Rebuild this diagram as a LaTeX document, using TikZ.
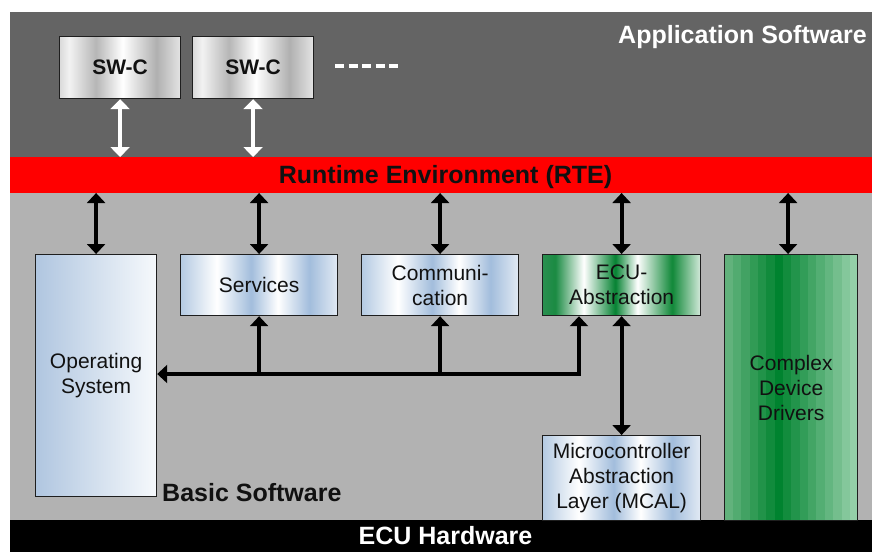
\documentclass[tikz,border=0pt]{standalone}
\usepackage{fontspec}
\setmainfont{Liberation Sans}
\usetikzlibrary{arrows.meta}

% layer colours
\definecolor{appgray}{HTML}{646464}
\definecolor{bswgray}{HTML}{B2B2B2}
\definecolor{rtered}{HTML}{FF0000}
\definecolor{edge}{HTML}{1E1E1E}
\definecolor{boxtext}{HTML}{111111}

% brushed metal stripes for software components
\definecolor{mA}{HTML}{DADADA}
\definecolor{mB}{HTML}{F2F2F2}
\definecolor{mC}{HTML}{B6B6B6}
\definecolor{mD}{HTML}{FFFFFF}
\definecolor{mE}{HTML}{B0B0B0}
\definecolor{mF}{HTML}{E4E4E4}
\pgfdeclarehorizontalshading{metal}{100bp}{color(0bp)=(mA); color(25bp)=(mA);
  color(29bp)=(mB); color(40bp)=(mC); color(51bp)=(mD); color(65bp)=(mE);
  color(75bp)=(mF); color(100bp)=(mF)}

% blue stripes for basic software modules
\definecolor{bA}{HTML}{B4CAE2}
\definecolor{bB}{HTML}{FFFFFF}
\definecolor{bC}{HTML}{A2BDDC}
\definecolor{bD}{HTML}{E2EAF4}
\pgfdeclarehorizontalshading{bluestripe}{100bp}{color(0bp)=(bA); color(25bp)=(bA);
  color(36.5bp)=(bB); color(47.5bp)=(bC); color(56bp)=(bB); color(66bp)=(bC);
  color(75bp)=(bD); color(100bp)=(bD)}

% green stripes for the ECU abstraction
\definecolor{gA}{HTML}{2A9050}
\definecolor{gB}{HTML}{1A8A42}
\definecolor{gC}{HTML}{FFFFFF}
\definecolor{gD}{HTML}{058232}
\definecolor{gE}{HTML}{108838}
\definecolor{gF}{HTML}{D4EADB}
\pgfdeclarehorizontalshading{greenstripe}{100bp}{color(0bp)=(gA); color(25bp)=(gA);
  color(29bp)=(gB); color(38bp)=(gC); color(48bp)=(gD); color(55bp)=(gC);
  color(66bp)=(gE); color(75bp)=(gF); color(100bp)=(gF)}

% banded green for complex device drivers
\definecolor{cddLeft}{HTML}{62B27C}
\definecolor{cddDark}{HTML}{00832F}
\definecolor{cddRight}{HTML}{94CFA8}

% operating system gradient
\definecolor{osLeft}{HTML}{B0C6E0}
\definecolor{osRight}{HTML}{F6F9FC}

\begin{document}
\begin{tikzpicture}[x=1pt,y=-1pt,
  box/.style={draw=edge, line width=1.2pt, anchor=north west, inner sep=2pt,
    align=center, text=boxtext, font=\fontsize{21}{25}\selectfont},
  metalbox/.style={box, shade, shading=metal,
    font=\fontsize{21}{25}\selectfont\bfseries},
  bluebox/.style={box, shade, shading=bluestripe},
  greenbox/.style={box, shade, shading=greenstripe},
  layertitle/.style={font=\fontsize{25}{30}\selectfont\bfseries, inner sep=0pt},
  bigtip/.tip={Triangle[width=18pt,length=10pt]},
  whitetip/.tip={Triangle[width=19pt,length=10pt]},
  biarrow/.style={draw=black, line width=4pt, bigtip-bigtip},
  whitearrow/.style={draw=white, line width=3.6pt, whitetip-whitetip},
  busline/.style={draw=black, line width=4pt, line join=miter}]

\useasboundingbox (0,0) rectangle (872,552);

% layers
\fill[appgray] (10,12) rectangle (881,157);
\node[fill=rtered, minimum width=871pt, minimum height=36pt, anchor=north west,
  inner sep=0pt, outer sep=0pt] (rte) at (10,157) {};
\fill[bswgray] (10,193) rectangle (881,520);
\fill[black] (10,520) rectangle (881,552);

% layer titles
\node[layertitle, text=white, anchor=base west] (apptitle) at (618,43) {Application Software};
\node[layertitle, text=boxtext, anchor=base] (rtetitle) at (445.5,183) {Runtime Environment (RTE)};
\node[layertitle, text=boxtext, anchor=base west] (bswtitle) at (162,501) {Basic Software};
\node[layertitle, text=white, anchor=base] (hwtitle) at (445.5,544) {ECU Hardware};

% software components
\node[metalbox, minimum width=121pt, minimum height=62pt] (swc1) at (59,36) {SW-C};
\node[metalbox, minimum width=121pt, minimum height=62pt] (swc2) at (192,36) {SW-C};
\draw[white, line width=4pt, dash pattern=on 9pt off 4.5pt] (335,66) -- (398,66);

% basic software modules
\node[box, left color=osLeft, right color=osRight, minimum width=121pt,
  minimum height=242pt] (os) at (35,254) {Operating\\System};
\node[bluebox, minimum width=157pt, minimum height=61pt] (svc) at (180,254) {Services};
\node[bluebox, minimum width=157pt, minimum height=61pt] (comm) at (361,254) {Communi-\\cation};
\node[greenbox, minimum width=158pt, minimum height=61pt] (ecu) at (542,254) {ECU-\\Abstraction};
\node[bluebox, minimum width=158pt, minimum height=85pt] (mcal) at (542,435)
  {Microcontroller\\Abstraction\\Layer (MCAL)};
\node[box, minimum width=133pt, minimum height=266pt,
  path picture={
    \foreach \i in {0,...,15}{
      \ifnum\i<7
        \pgfmathtruncatemacro\p{100*\i/6}\colorlet{stripe}{cddDark!\p!cddLeft}
      \else
        \pgfmathtruncatemacro\p{100*(15-\i)/9}\colorlet{stripe}{cddDark!\p!cddRight}
      \fi
      \fill[stripe] ([xshift=\i*8.35pt]path picture bounding box.north west)
        rectangle ([xshift=\i*8.35pt+8.45pt]path picture bounding box.south west);
    }
  }] (cdd) at (724,254) {Complex\\Device\\Drivers};

% software components to RTE
\draw[whitearrow] (swc1.south) -- (swc1.south |- rte.north);
\draw[whitearrow] (swc2.south) -- (swc2.south |- rte.north);

% RTE to basic software
\draw[biarrow] (os.north |- rte.south) -- (os.north);
\draw[biarrow] (svc.north |- rte.south) -- (svc.north);
\draw[biarrow] (comm.north |- rte.south) -- (comm.north);
\draw[biarrow] (ecu.north |- rte.south) -- (ecu.north);
\draw[biarrow] ([xshift=-3pt]cdd.north |- rte.south) -- ([xshift=-3pt]cdd.north);

% internal bus of the basic software
\coordinate (busR) at (579,374);
\draw[busline, bigtip-bigtip] (busR |- ecu.south) -- (busR) -- (busR -| os.east);
\draw[busline, -bigtip] (svc.south |- busR) -- (svc.south);
\draw[busline, -bigtip] (comm.south |- busR) -- (comm.south);

% ECU abstraction to MCAL
\draw[biarrow] (ecu.south) -- (mcal.north);

\end{tikzpicture}
\end{document}
